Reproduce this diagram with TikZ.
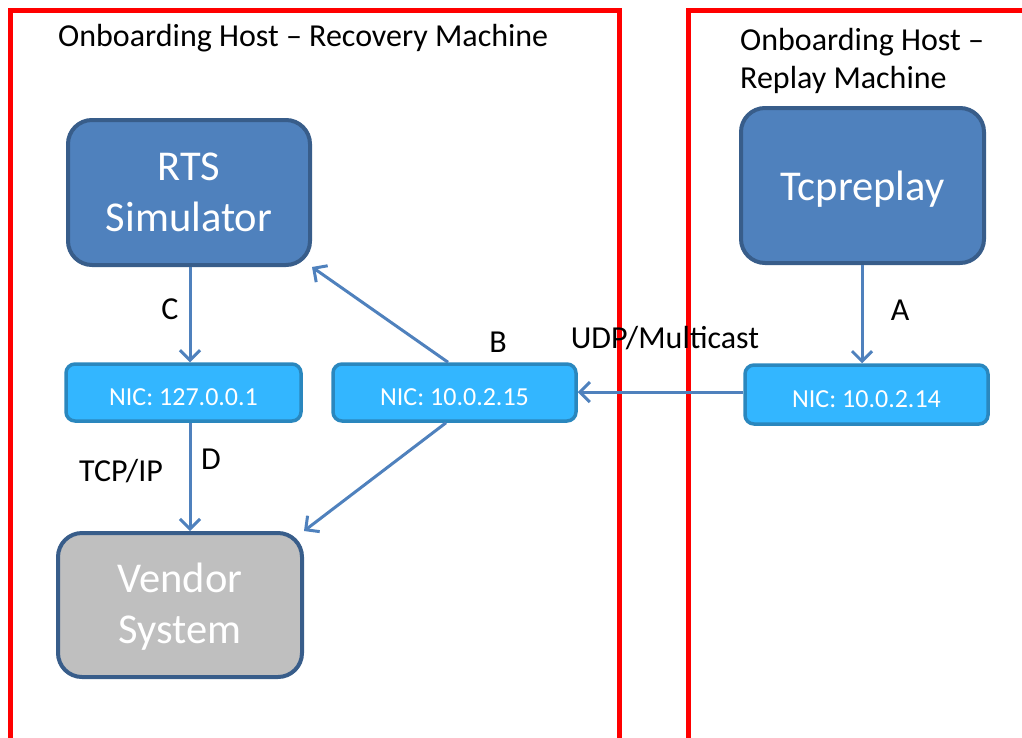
\documentclass[tikz,border=0pt]{standalone}
\usepackage{fontspec}
\setmainfont{Carlito}
\usetikzlibrary{arrows.meta}
\definecolor{frame}{HTML}{FF0000}
\definecolor{bigfill}{HTML}{4F81BD}
\definecolor{bigdraw}{HTML}{385D8A}
\definecolor{nicfill}{HTML}{33B6FF}
\definecolor{nicdraw}{HTML}{2A87BE}
\definecolor{arr}{HTML}{4F81BD}
\definecolor{vendfill}{HTML}{BFBFBF}
\tikzset{
  bigbox/.style={draw=bigdraw, fill=bigfill, line width=4pt, rounded corners=24pt,
    text=white, align=center, font=\fontsize{42.5}{51}\selectfont, inner sep=0pt},
  nicbox/.style={draw=nicdraw, fill=nicfill, line width=3.5pt, rounded corners=9pt,
    text=white, font=\fontsize{26}{30}\selectfont, inner sep=0pt, text height=25pt, text depth=0pt},
  conn/.style={draw=arr, line width=3pt, -{Straight Barb[length=10pt,width=20pt,line width=3pt]}},
  lbl/.style={font=\fontsize{32}{38}\selectfont, inner sep=0pt, text=black},
  hostframe/.style={draw=frame, line width=5pt},
}
\begin{document}
\begin{tikzpicture}[x=1pt,y=-1pt]
\useasboundingbox (0,0) rectangle (1022,737);
\draw[hostframe] (10.5,10.5) rectangle (619.5,760);
\draw[hostframe] (688,10.5) rectangle (1040,760);
\node[lbl, anchor=west] (t1) at (58,38) {Onboarding Host – Recovery Machine};
\node[lbl, anchor=west, align=left] (t2) at (740,61) {Onboarding Host –\\Replay Machine};

\node[bigbox, minimum width=242pt, minimum height=145pt] (rts) at (189,192.5) {RTS\\Simulator};
\node[bigbox, minimum width=243pt, minimum height=155pt, text height=39pt, text depth=9pt] (tcp) at (862.5,185.5) {Tcpreplay};
\node[bigbox, fill=vendfill, minimum width=244pt, minimum height=144pt, text depth=4pt] (vend) at (180,605) {Vendor\\System};

\node[nicbox, minimum width=235pt, minimum height=57pt] (n1) at (183.5,392.5) {NIC: 127.0.0.1};
\node[nicbox, minimum width=243pt, minimum height=57pt] (n2) at (454.5,392.5) {NIC: 10.0.2.15};
\node[nicbox, minimum width=243pt, minimum height=59pt] (n3) at (866.5,394.5) {NIC: 10.0.2.14};

\draw[conn] (rts.south -| 190,0) -- (n1.north -| 190,0);
\draw[conn] (n1.south -| 190,0) -- (vend.north -| 190,0);
\draw[conn] (n2.north -| 448,0) -- (rts.south east);
\draw[conn] (n2.south -| 446,0) -- (vend.north east);
\draw[conn] (tcp.south -| 862,0) -- (n3.north -| 862,0);
\draw[conn] (n3.west |- 0,392) -- (n2.east |- 0,392);

\node[lbl] (lc) at (170,309) {C};
\node[lbl] (ld) at (211,459) {D};
\node[lbl] (ltcp) at (121,471) {TCP/IP};
\node[lbl] (lb) at (498,342) {B};
\node[lbl] (la) at (900,310) {A};
\node[lbl] (ludp) at (665,338) {UDP/Multicast};
\end{tikzpicture}
\end{document}
